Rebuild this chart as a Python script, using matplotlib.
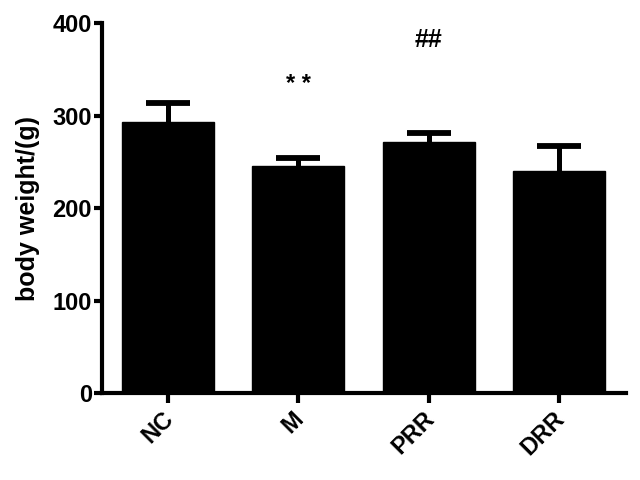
import matplotlib
matplotlib.use("Agg")
import matplotlib.pyplot as plt
import numpy as np

categories = ["NC", "M", "PRR", "DRR"]
means = [293, 245, 271, 240]
errors = [21, 9, 10, 27]
annotations = ["", "* *", "##", ""]
annot_y = [0, 327, 374, 0]

plt.rcParams['font.family'] = ['Liberation Sans', 'DejaVu Sans']
plt.rcParams['font.weight'] = 'bold'

fig = plt.figure(figsize=(6.4, 4.8), dpi=100)
ax = fig.add_axes([0.159, 0.181, 0.819, 0.771])
x = np.arange(len(categories))
ax.bar(x, means, width=0.705, color='black', edgecolor='black', zorder=3)
eb = ax.errorbar(x, means, yerr=[np.zeros(len(errors)), errors], fmt='none',
                 ecolor='black', elinewidth=3.6, capsize=16, capthick=4.2, zorder=2)
# hide the lower cap (one-sided error bars)
caplines = eb[1]
if len(caplines) >= 1:
    caplines[0].set_visible(False)

for xi, a, ay in zip(x, annotations, annot_y):
    if a:
        ax.text(xi, ay, a, ha='center', va='baseline', fontsize=18 if a == "##" else 17,
                fontweight='bold')

ax.set_xlim(-0.506, 3.51)
ax.set_ylim(0, 400)
ax.set_yticks([0, 100, 200, 300, 400])
ax.set_xticks(x)
ax.set_xticklabels(categories, rotation=45, ha='right', rotation_mode='anchor',
                   va='center_baseline', fontsize=17, fontweight='bold')
for lbl in ax.get_yticklabels():
    lbl.set_fontsize(17)
    lbl.set_fontweight('bold')
ax.set_ylabel("body weight/(g)", fontsize=18, fontweight='bold', labelpad=9)
ax.spines['top'].set_visible(False)
ax.spines['right'].set_visible(False)
ax.spines['left'].set_linewidth(3)
ax.spines['bottom'].set_linewidth(3)
ax.spines['left'].set_zorder(4)
ax.spines['bottom'].set_zorder(4)
ax.tick_params(axis='y', width=3, length=6, pad=1)
ax.tick_params(axis='x', width=3, length=7, pad=8)

fig.savefig("out.png", dpi=100)
